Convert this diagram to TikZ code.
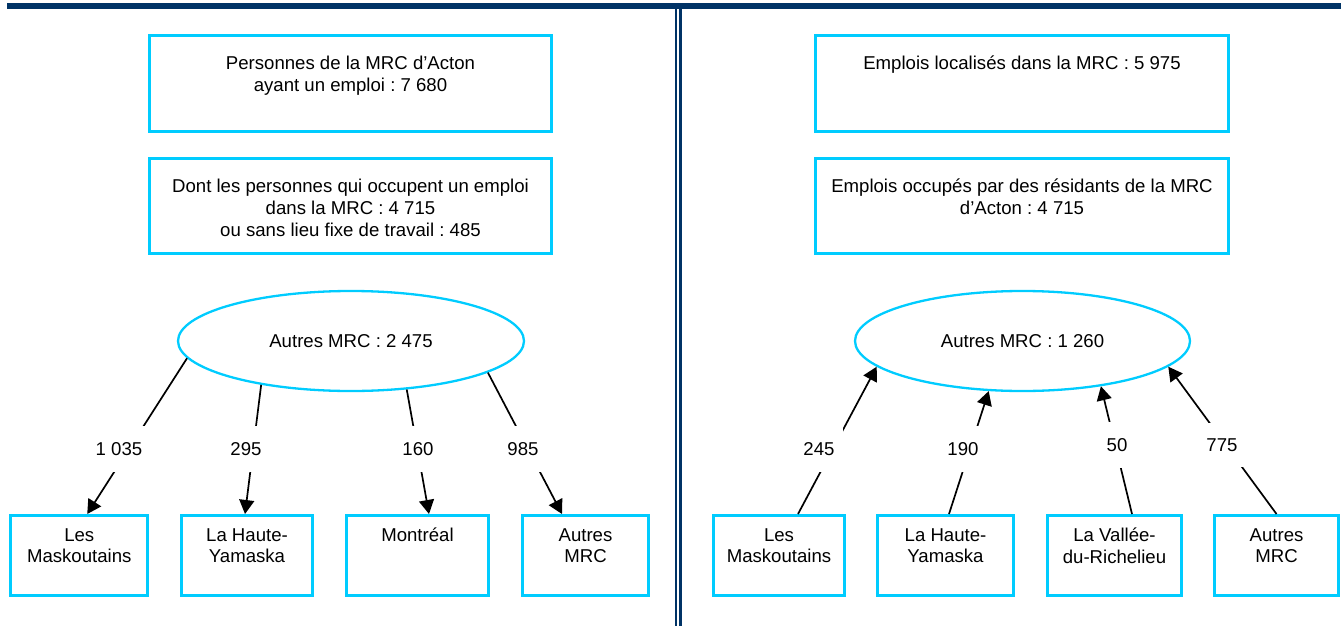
\documentclass[tikz,border=0pt]{standalone}
\usepackage{fontspec}
\setmainfont{Liberation Sans}
\usetikzlibrary{positioning,shapes.geometric,arrows.meta}
\definecolor{cadre}{HTML}{00CCFF}
\definecolor{marine}{HTML}{003366}
\frenchspacing

\begin{document}
\begin{tikzpicture}[x=1pt, y=-1pt, font=\fontsize{18.6}{21.8}\selectfont,
    boite/.style={draw=cadre, line width=2.7pt, inner sep=0pt},
    bulle/.style={ellipse, draw=cadre, line width=2.3pt, inner sep=0pt},
    txt/.style={align=center, inner sep=0pt},
    fleche/.style={line width=1.7pt, -{Triangle[length=14pt,width=15pt]}},
    nb/.style={fill=white, inner xsep=8pt, inner ysep=16pt}]
    \useasboundingbox (0,0) rectangle (1341,626);

    % bandeau et filet double
    \fill[marine] (7,3) rectangle (1341,9);
    \fill[marine] (674.7,9) rectangle (677.3,626);
    \fill[marine] (679.4,9) rectangle (682.2,626);

    % cadres du haut
    \node[boite, minimum width=402pt, minimum height=96.3pt] (hL1) at (350.5,83.5) {};
    \node[txt, below=22pt of hL1.north] {Personnes de la MRC d’Acton\\ayant un emploi : 7 680};
    \node[boite, minimum width=402pt, minimum height=95.3pt] (hL2) at (350.5,206) {};
    \node[txt, below=22pt of hL2.north] {Dont les personnes qui occupent un emploi\\dans la MRC : 4 715\\ou sans lieu fixe de travail : 485};

    \node[boite, minimum width=413.3pt, minimum height=96.3pt] (hR1) at (1022,83.5) {};
    \node[txt, below=22pt of hR1.north] {Emplois localisés dans la MRC : 5 975};
    \node[boite, minimum width=413.3pt, minimum height=95.3pt] (hR2) at (1022,206) {};
    \node[txt, below=22pt of hR2.north] {Emplois occupés par des résidants de la MRC\\d’Acton : 4 715};

    % ellipses
    \node[bulle, minimum width=346pt, minimum height=100pt] (eL) at (351,341) {Autres MRC : 2 475};
    \node[bulle, minimum width=335pt, minimum height=100pt] (eR) at (1022.5,341) {Autres MRC : 1 260};

    % cadres du bas
    \foreach \nom/\cx/\lar/\texte in {mL1/79.25/137/{Les\\Maskoutains}, mL2/247/131.3/{La Haute-\\Yamaska},
        mL3/417.5/142.3/{Montréal}, mL4/585.5/126.3/{Autres\\MRC},
        mR1/779/131.3/{Les\\Maskoutains}, mR2/945.5/136.3/{La Haute-\\Yamaska},
        mR3/1114.5/134.3/{La Vallée-\\du-Richelieu}, mR4/1276.5/124.3/{Autres\\MRC}}
    {
        \node[boite, minimum width=\lar pt, minimum height=80.3pt] (\nom) at (\cx,555.5) {};
        \node[txt, below=14pt of \nom.north] {\texte};
    }

    % flux sortants
    \foreach \a/\b/\dx/\lx/\ly/\v in {186/mL1/8/119/449/{1 035}, 206/mL2/-2/246/449/295,
        319/mL3/11.5/418/449/160, 347/mL4/-23.5/523/449/985}
    {
        \draw[fleche] (eL.\a) -- ([xshift=\dx pt]\b.north);
        \node[nb] (n\b) at (\lx,\ly) {\v};
    }

    % flux entrants
    \foreach \a/\b/\dx/\lx/\ly/\v in {190/mR1/19/819/449/245, 236/mR2/3.5/963/449/190,
        330/mR3/17.5/1117/445/50, 350/mR4/0/1222/445/775}
    {
        \draw[fleche] ([xshift=\dx pt]\b.north) -- (eR.\a);
        \node[nb] (n\b) at (\lx,\ly) {\v};
    }
\end{tikzpicture}
\end{document}
